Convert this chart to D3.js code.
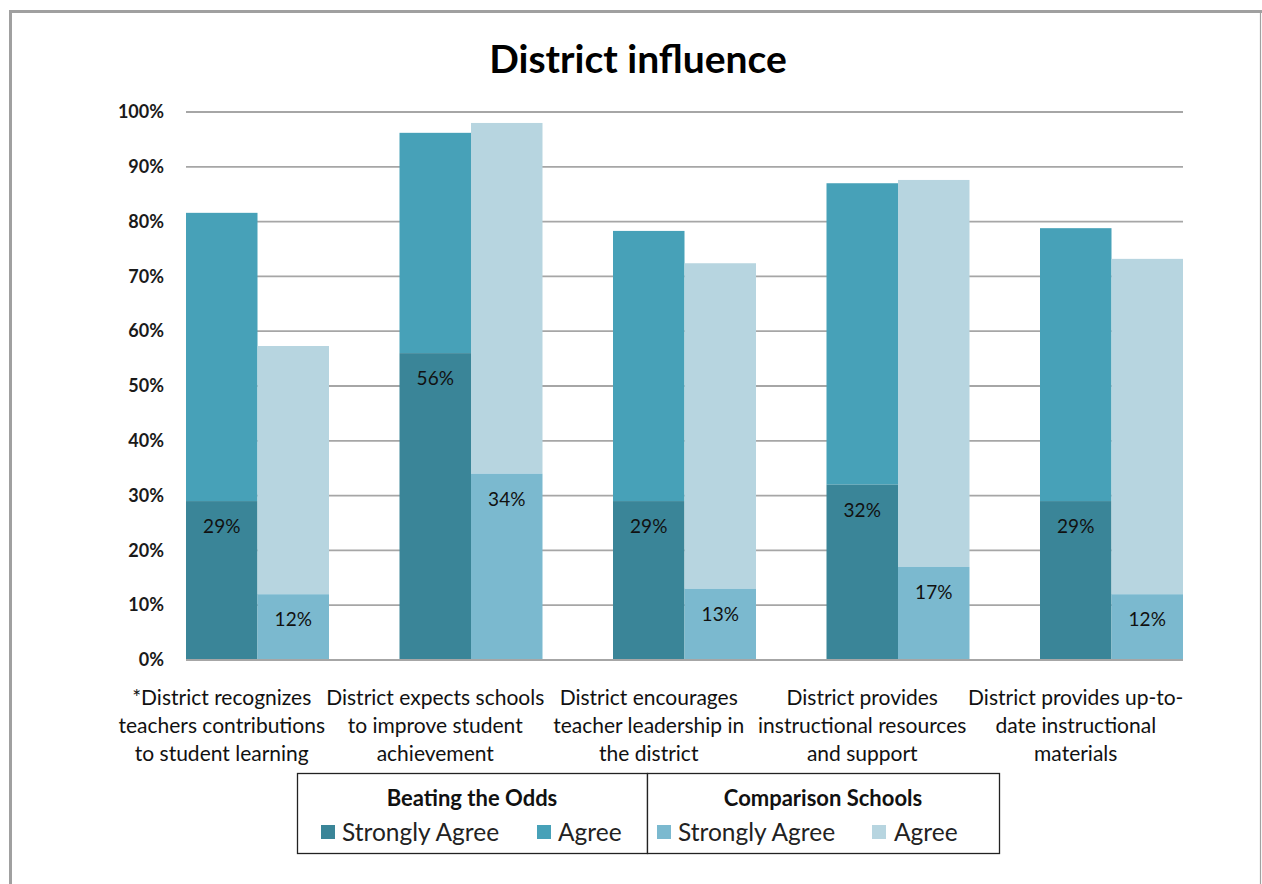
<!DOCTYPE html>
<html>
<head>
<meta charset="utf-8">
<script src="https://cdn.jsdelivr.net/npm/d3@7/dist/d3.min.js"></script>
<style>
  html, body { margin: 0; padding: 0; background: #fff; }
  svg { display: block; font-family: Lato, "Open Sans", sans-serif; }
</style>
</head>
<body>
<svg id="chart" width="1262" height="884"></svg>
<script>
// Survey statements (category axis), each split over three lines
const categories = [
  ["*District recognizes", "teachers contributions", "to student learning"],
  ["District expects schools", "to improve student", "achievement"],
  ["District encourages", "teacher leadership in", "the district"],
  ["District provides", "instructional resources", "and support"],
  ["District provides up-to-", "date instructional", "materials"]
];

// Percent of respondents
const btoStronglyAgree  = [29, 56, 29, 32, 29];
const btoAgree          = [52.6, 40.2, 49.3, 55.0, 49.8];
const compStronglyAgree = [12, 34, 13, 17, 12];
const compAgree         = [45.3, 64.0, 59.4, 70.6, 61.2];

const yTicks = [0, 10, 20, 30, 40, 50, 60, 70, 80, 90, 100];

const groups = ["Beating the Odds", "Comparison Schools"];
const seriesNames = ["Strongly Agree", "Agree"];
const colors = {
  "Beating the Odds":   ["#3a8598", "#47a1b8"],
  "Comparison Schools": ["#7bb9cf", "#b7d5e0"]
};

const svg = d3.select("#chart");

// Outer frame
svg.append("path").attr("d", "M10.5,884 V11.5 H1262")
  .attr("fill", "none").attr("stroke", "#a0a0a0").attr("stroke-width", 3);
svg.append("line").attr("x1", 1260.5).attr("x2", 1260.5).attr("y1", 12).attr("y2", 884)
  .attr("stroke", "#a0a0a0").attr("stroke-width", 1.2);

// Title
svg.append("text").attr("x", 638).attr("y", 73).attr("text-anchor", "middle")
  .attr("font-size", 39).attr("font-weight", 700).attr("fill", "#000")
  .text("District influence");

// Scales
const plotLeft = 186, plotRight = 1183;
const y = d3.scaleLinear().domain([0, 100]).range([660, 112]);
const x = d3.scaleBand().domain(d3.range(categories.length))
  .range([plotLeft, plotRight]).paddingInner(0.3302).paddingOuter(0);
const xs = d3.scaleBand().domain(groups).range([0, x.bandwidth()]);

// Gridlines
svg.append("g").selectAll("line").data(yTicks.filter(d => d > 0)).join("line")
  .attr("x1", plotLeft).attr("x2", plotRight)
  .attr("y1", d => y(d)).attr("y2", d => y(d))
  .attr("stroke", "#a6a6a6").attr("stroke-width", 1.8);

// Y axis labels
const yAxis = d3.axisLeft(y).tickValues(yTicks).tickFormat(d => d + "%").tickSize(0).tickPadding(0);
const yg = svg.append("g").attr("transform", "translate(164,0)").call(yAxis);
yg.select(".domain").remove();
yg.selectAll("text").attr("font-size", 18).attr("font-weight", 700).attr("fill", "#1a1a1a")
  .attr("font-family", "Lato, sans-serif");

// Stacked bars
const groupData = [
  { group: "Beating the Odds",   sa: btoStronglyAgree,  ag: btoAgree },
  { group: "Comparison Schools", sa: compStronglyAgree, ag: compAgree }
];

groupData.forEach(g => {
  const rows = categories.map((c, i) => ({ i, sa: g.sa[i], ag: g.ag[i] }));
  const gx = i => x(i) + xs(g.group);
  const [cSA, cAG] = colors[g.group];
  const layer = svg.append("g");
  layer.selectAll("rect.ag").data(rows).join("rect").attr("class", "ag")
    .attr("x", d => gx(d.i)).attr("width", xs.bandwidth())
    .attr("y", d => y(d.sa + d.ag)).attr("height", d => y(d.sa) - y(d.sa + d.ag))
    .attr("fill", cAG);
  layer.selectAll("rect.sa").data(rows).join("rect").attr("class", "sa")
    .attr("x", d => gx(d.i)).attr("width", xs.bandwidth())
    .attr("y", d => y(d.sa)).attr("height", d => y(0) - y(d.sa))
    .attr("fill", cSA);
  layer.selectAll("text").data(rows).join("text")
    .attr("x", d => gx(d.i) + xs.bandwidth() / 2)
    .attr("y", d => y(d.sa) + 32)
    .attr("text-anchor", "middle").attr("font-size", 19).attr("fill", "#111")
    .text(d => d.sa + "%");
});

// Category axis line
svg.append("line").attr("x1", plotLeft).attr("x2", plotRight)
  .attr("y1", y(0)).attr("y2", y(0)).attr("stroke", "#a6a6a6").attr("stroke-width", 1.8);

// Category labels, centred under the first bar of each pair
const xl = svg.append("g");
categories.forEach((lines, i) => {
  const cx = x(i) + xs(groups[0]) + xs.bandwidth() / 2;
  const t = xl.append("text").attr("x", cx).attr("y", 705)
    .attr("text-anchor", "middle").attr("font-size", 21).attr("fill", "#111");
  lines.forEach((ln, k) => {
    t.append("tspan").attr("x", cx).attr("dy", k === 0 ? 0 : 28).text(ln);
  });
});

// Legend: one box per school group
const legendBoxes = [
  { group: "Beating the Odds",   x: 297, w: 350, items: [321, 537], text: [342, 558] },
  { group: "Comparison Schools", x: 647, w: 352, items: [657, 872], text: [678, 894] }
];
legendBoxes.forEach(b => {
  const lg = svg.append("g");
  lg.append("rect").attr("x", b.x + 0.5).attr("y", 773.5).attr("width", b.w).attr("height", 80)
    .attr("fill", "#fff").attr("stroke", "#222").attr("stroke-width", 1.3);
  lg.append("text").attr("x", b.x + b.w / 2).attr("y", 806).attr("text-anchor", "middle")
    .attr("font-size", 22).attr("font-weight", 700).attr("fill", "#111").text(b.group);
  seriesNames.forEach((s, k) => {
    lg.append("rect").attr("x", b.items[k]).attr("y", 825).attr("width", 14).attr("height", 14)
      .attr("fill", colors[b.group][k]);
    lg.append("text").attr("x", b.text[k]).attr("y", 841)
      .attr("font-size", 24.5).attr("fill", "#222").text(s);
  });
});
</script>
</body>
</html>
